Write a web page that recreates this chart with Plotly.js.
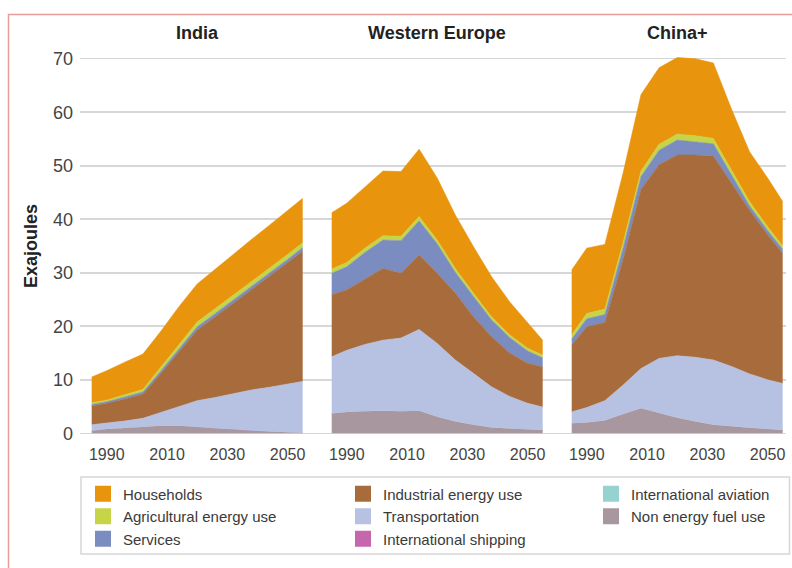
<!DOCTYPE html>
<html>
<head>
<meta charset="utf-8">
<script src="https://cdn.plot.ly/plotly-3.0.1.min.js"></script>
<style>
html,body{margin:0;padding:0;background:#fff;}
#chart{width:792px;height:568px;}
</style>
</head>
<body>
<div id="chart"></div>
<script>
// ---------------- DATA ----------------
const years = [1985, 1990, 1996, 2002, 2008, 2014, 2020, 2026, 2032, 2038, 2044, 2050, 2055];
const regions = ['India', 'Western Europe', 'China+'];
const tickYears = [1990, 2010, 2030, 2050];
const yTicks = [0, 10, 20, 30, 40, 50, 60, 70];

// stacking order, bottom to top
const categories = ['Non energy fuel use', 'International shipping', 'International aviation',
  'Transportation', 'Industrial energy use', 'Services', 'Agricultural energy use', 'Households'];

// India (Exajoules)
const indiaNonEnergy   = [0.5, 0.8, 1.0, 1.2, 1.4, 1.4, 1.2, 0.9, 0.7, 0.5, 0.3, 0.2, 0.1];
const indiaShipping    = [0, 0, 0, 0, 0, 0, 0, 0, 0, 0, 0, 0, 0];
const indiaAviation    = [0, 0, 0, 0, 0, 0, 0, 0, 0, 0, 0, 0, 0];
const indiaTransport   = [1.1, 1.1, 1.3, 1.6, 2.5, 3.6, 4.9, 5.8, 6.7, 7.6, 8.3, 9.0, 9.6];
const indiaIndustrial  = [3.5, 3.7, 4.1, 4.5, 7.3, 10.3, 13.2, 15.1, 16.9, 18.8, 20.7, 22.6, 24.3];
const indiaServices    = [0.3, 0.3, 0.4, 0.4, 0.5, 0.5, 0.6, 0.6, 0.6, 0.6, 0.7, 0.7, 0.7];
const indiaAgri        = [0.3, 0.3, 0.4, 0.5, 0.7, 0.8, 0.9, 0.9, 0.9, 0.9, 0.9, 0.9, 0.9];
const indiaHouseholds  = [4.8, 5.5, 6.1, 6.6, 6.7, 7.1, 7.1, 7.4, 7.6, 7.8, 8.0, 8.2, 8.3];

// Western Europe
const weNonEnergy  = [3.7, 4.0, 4.1, 4.2, 4.1, 4.2, 3.1, 2.2, 1.6, 1.1, 0.9, 0.7, 0.6];
const weShipping   = [0, 0, 0, 0, 0, 0, 0, 0, 0, 0, 0, 0, 0];
const weAviation   = [0, 0, 0, 0, 0, 0, 0, 0, 0, 0, 0, 0, 0];
const weTransport  = [10.6, 11.5, 12.5, 13.2, 13.7, 15.2, 13.7, 11.5, 9.6, 7.6, 6.0, 4.9, 4.3];
const weIndustrial = [11.6, 11.3, 12.2, 13.4, 12.1, 13.9, 13.1, 12.5, 10.6, 9.4, 8.1, 7.5, 7.5];
const weServices   = [4.0, 4.3, 5.0, 5.3, 6.1, 6.4, 5.5, 3.9, 3.8, 3.1, 2.9, 2.3, 1.7];
const weAgri       = [0.8, 0.8, 0.8, 0.8, 0.8, 0.8, 0.7, 0.7, 0.6, 0.6, 0.5, 0.5, 0.5];
const weHouseholds = [10.5, 11.1, 11.4, 12.1, 12.1, 12.6, 11.6, 10.0, 8.7, 7.5, 6.2, 4.7, 2.8];

// China+
const chinaNonEnergy  = [1.9, 2.0, 2.4, 3.6, 4.7, 3.8, 2.9, 2.2, 1.6, 1.3, 1.0, 0.8, 0.6];
const chinaShipping   = [0, 0, 0, 0, 0, 0, 0, 0, 0, 0, 0, 0, 0];
const chinaAviation   = [0, 0, 0, 0, 0, 0, 0, 0, 0, 0, 0, 0, 0];
const chinaTransport  = [2.1, 2.8, 3.7, 5.4, 7.4, 10.2, 11.6, 12.0, 12.1, 11.2, 10.1, 9.2, 8.7];
const chinaIndustrial = [12.5, 15.1, 14.6, 23.4, 33.5, 36.2, 37.5, 37.8, 38.1, 34.2, 30.6, 27.1, 24.3];
const chinaServices   = [1.1, 1.5, 1.5, 2.1, 2.4, 2.7, 2.8, 2.5, 2.3, 1.6, 0.8, 0.8, 0.8];
const chinaAgri       = [0.8, 1.0, 1.0, 1.0, 1.0, 1.1, 1.1, 1.1, 1.0, 0.9, 0.8, 0.7, 0.6];
const chinaHouseholds = [12.1, 12.2, 12.1, 13.0, 14.3, 14.3, 14.3, 14.4, 14.1, 11.4, 9.3, 9.1, 8.3];

// legend columns (as in the reference)
const legendColumns = [
  ['Households', 'Agricultural energy use', 'Services'],
  ['Industrial energy use', 'Transportation', 'International shipping'],
  ['International aviation', 'Non energy fuel use']
];

// ---------------- STYLE ----------------
const colors = {
  'Households': '#E8940C',
  'Agricultural energy use': '#C6D548',
  'Services': '#7A8CC0',
  'Industrial energy use': '#A86B3B',
  'Transportation': '#B7C2E2',
  'International shipping': '#C666AC',
  'International aviation': '#96D2CF',
  'Non energy fuel use': '#A8979F'
};
const FONT = 'Liberation Sans, Arial, Helvetica, sans-serif';

const regionSeries = [
  [indiaNonEnergy, indiaShipping, indiaAviation, indiaTransport, indiaIndustrial, indiaServices, indiaAgri, indiaHouseholds],
  [weNonEnergy, weShipping, weAviation, weTransport, weIndustrial, weServices, weAgri, weHouseholds],
  [chinaNonEnergy, chinaShipping, chinaAviation, chinaTransport, chinaIndustrial, chinaServices, chinaAgri, chinaHouseholds]
];
const axisSuffix = ['', '2', '3'];

const traces = [];
regionSeries.forEach((series, r) => {
  series.forEach((vals, c) => {
    const name = categories[c];
    const nonzero = vals.some(v => v > 0);
    traces.push({
      type: 'scatter',
      x: years,
      y: vals,
      name: name,
      xaxis: 'x' + axisSuffix[r],
      yaxis: 'y',
      stackgroup: 'g' + r,
      mode: nonzero ? 'lines' : 'none',
      line: {width: nonzero ? 0.6 : 0, color: colors[name]},
      fillcolor: colors[name],
      showlegend: false,
      hoverinfo: 'skip'
    });
  });
});

// legend entries
const legendIds = ['legend', 'legend2', 'legend3'];
legendColumns.forEach((col, i) => {
  col.forEach(name => {
    traces.push({
      type: 'scatter',
      x: [null],
      y: [null],
      name: name,
      mode: 'markers',
      marker: {symbol: 'square', size: 16, color: colors[name]},
      legend: legendIds[i],
      showlegend: true,
      hoverinfo: 'skip'
    });
  });
});

// ---------------- LAYOUT ----------------
const W = 792, H = 568;
const M = {l: 80, r: 6, t: 55, b: 131};
const PW = W - M.l - M.r, PH = H - M.t - M.b;
const px2x = p => (p - M.l) / PW;
const px2y = p => (H - M.b - p) / PH;

const legendBase = {
  orientation: 'v', xanchor: 'left', yanchor: 'top',
  bgcolor: 'rgba(0,0,0,0)', borderwidth: 0,
  font: {family: FONT, size: 15, color: '#3a3a3a'},
  itemsizing: 'trace', tracegroupgap: 0, traceorder: 'normal'
};
const legendY = px2y(477.5);

const xCommon = {
  tickvals: tickYears, ticktext: tickYears.map(String),
  showgrid: false, zeroline: false, showline: false, ticks: '',
  tickfont: {family: FONT, size: 16, color: '#444'},
  ticklabelstandoff: 6,
  anchor: 'y', fixedrange: true
};

const layout = {
  width: W, height: H,
  margin: Object.assign({autoexpand: false}, M),
  paper_bgcolor: '#fff', plot_bgcolor: 'rgba(0,0,0,0)',
  font: {family: FONT, color: '#333'},
  showlegend: true,
  hovermode: false,
  xaxis: Object.assign({}, xCommon, {domain: [0, px2x(317)], range: [1981.12, 2059.75]}),
  xaxis2: Object.assign({}, xCommon, {domain: [px2x(317), px2x(557)], range: [1980.12, 2059.75]}),
  xaxis3: Object.assign({}, xCommon, {domain: [px2x(557), 1], range: [1980.12, 2056.1]}),
  yaxis: {
    range: [-0.69, 70.69], tickvals: yTicks,
    showgrid: true, gridcolor: '#d7d7d7', gridwidth: 1.6,
    zeroline: false, showline: false, ticks: '',
    tickfont: {family: FONT, size: 18, color: '#444'},
    ticklabelstandoff: 6,
    title: {text: '<b>Exajoules</b>', font: {family: FONT, size: 18, color: '#222'}, standoff: 10},
    fixedrange: true
  },
  legend: Object.assign({}, legendBase, {x: px2x(83), y: legendY}),
  legend2: Object.assign({}, legendBase, {x: px2x(343), y: legendY}),
  legend3: Object.assign({}, legendBase, {x: px2x(591), y: legendY}),
  annotations: regions.map((name, i) => ({
    text: '<b>' + name + '</b>',
    xref: 'x' + axisSuffix[i], yref: 'paper',
    x: 2020, y: px2y(33),
    xanchor: 'center', yanchor: 'middle',
    showarrow: false,
    font: {family: FONT, size: 18, color: '#222'}
  })),
  shapes: [
    // legend box
    {type: 'rect', xref: 'paper', yref: 'paper',
     x0: px2x(81), x1: px2x(789.5), y0: px2y(554), y1: px2y(477),
     line: {color: '#d6d6d6', width: 1.5}, fillcolor: 'rgba(0,0,0,0)'},
    // outer frame
    {type: 'rect', xref: 'paper', yref: 'paper',
     x0: px2x(8.5), x1: px2x(810), y0: px2y(600), y1: px2y(14.5),
     line: {color: '#E89C9C', width: 1.5}, fillcolor: 'rgba(0,0,0,0)'}
  ]
};

Plotly.newPlot('chart', traces, layout, {staticPlot: true, displayModeBar: false});
</script>
</body>
</html>
